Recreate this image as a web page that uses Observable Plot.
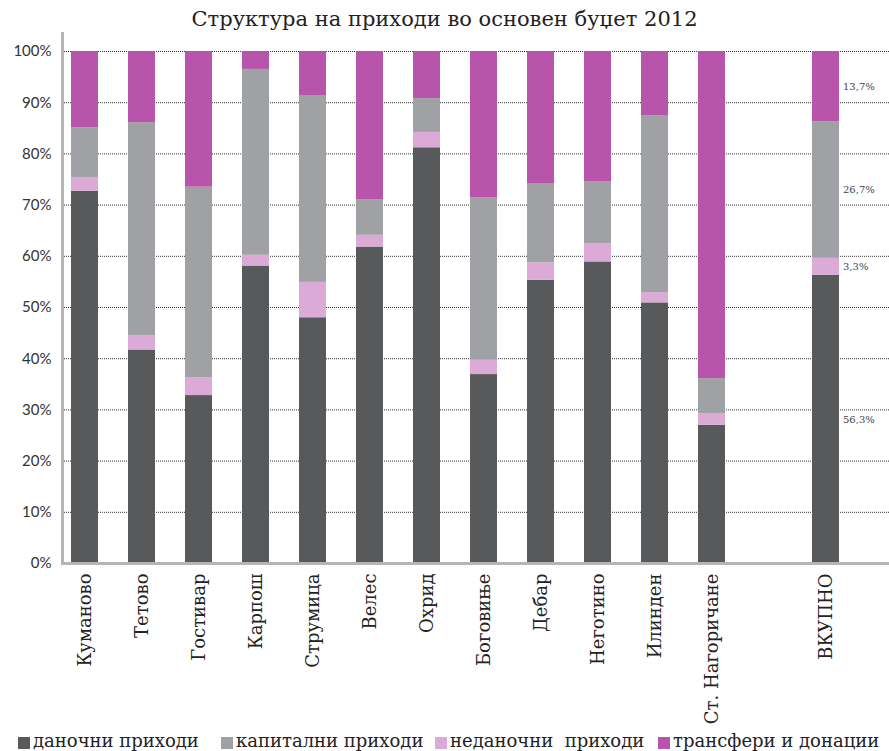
<!DOCTYPE html>
<html>
<head>
<meta charset="utf-8">
<script src="https://cdn.jsdelivr.net/npm/d3@7"></script>
<script src="https://cdn.jsdelivr.net/npm/@observablehq/plot@0.6"></script>
<style>
  html, body { margin: 0; padding: 0; background: #fff; }
  #wrap { position: relative; width: 889px; height: 751px; overflow: hidden; }
  #title { height: 30px; font-family: "DejaVu Serif", serif; font-size: 21px; line-height: 21px;
           padding-top: 9px; box-sizing: border-box; text-align: center; color: #222; white-space: nowrap; }
  #chart svg { display: block; background: transparent; }
  #legend { position: relative; height: 21px; font-family: "DejaVu Serif", serif; font-size: 18px; color: #222; }
  .li { position: absolute; top: 0; white-space: pre; }
  .sw { position: absolute; top: 7px; width: 12px; height: 12px; }
  .lt { position: absolute; top: 1px; line-height: 19px; white-space: pre; }
</style>
</head>
<body>
<div id="wrap">
  <div id="title">Структура на приходи во основен буџет 2012</div>
  <div id="chart"></div>
  <div id="legend"></div>
</div>
<script>
const categories = ["Куманово","Тетово","Гостивар","Карпош","Струмица","Велес","Охрид","Боговиње","Дебар","Неготино","Илинден","Ст. Нагоричане","ВКУПНО"];
const spacer = " ";
const xDomain = [...categories.slice(0, 12), spacer, categories[12]];

const seriesNames = ["даночни приходи", "неданочни  приходи", "капитални приходи", "трансфери и донации"];
const legendOrder = ["даночни приходи", "капитални приходи", "неданочни  приходи", "трансфери и донации"];
const seriesColors = ["#58595b", "#dcaad7", "#a0a1a4", "#b854a9"];

const taxRevenue      = [72.7, 41.7, 32.8, 58.1, 48.0, 61.8, 81.2, 36.9, 55.3, 58.9, 50.9, 27.0, 56.3];
const nonTaxRevenue   = [ 2.7,  2.8,  3.5,  2.1,  6.9,  2.3,  3.0,  2.8,  3.4,  3.5,  2.0,  2.3,  3.3];
const capitalRevenue  = [ 9.7, 41.6, 37.2, 36.3, 36.5,  6.9,  6.6, 31.7, 15.4, 12.1, 34.5,  6.8, 26.7];
const transfers       = [14.9, 13.9, 26.5,  3.5,  8.6, 29.0,  9.2, 28.6, 25.9, 25.5, 12.6, 63.9, 13.7];

const yTicks = [0, 10, 20, 30, 40, 50, 60, 70, 80, 90, 100];

const seriesValues = [taxRevenue, nonTaxRevenue, capitalRevenue, transfers];
const rows = [];
seriesNames.forEach((s, si) => {
  categories.forEach((c, ci) => rows.push({cat: c, series: s, value: seriesValues[si][ci]}));
});
const totalRows = rows.filter(d => d.cat === "ВКУПНО");
const fmt = v => v.toFixed(1).replace(".", ",") + "%";

const chart = Plot.plot({
  width: 889,
  height: 700,
  marginTop: 3,
  marginBottom: 167,
  marginLeft: 62,
  marginRight: 0,
  style: {background: "transparent"},
  x: {type: "band", domain: xDomain, range: [71, 840.3], paddingInner: 0.527, paddingOuter: 0, align: 0, label: null},
  y: {domain: [0, 100], range: [533, 21], label: null},
  color: {domain: seriesNames, range: seriesColors},
  marks: [
    Plot.ruleY(yTicks, {stroke: "#333", strokeDasharray: "1,1", strokeWidth: 1}),
    Plot.barY(rows, {x: "cat", y: "value", fill: "series", order: null}),
    Plot.ruleY([0], {stroke: "#b5b5b5", strokeWidth: 3}),
    Plot.frame({anchor: "left", stroke: "#b5b5b5", strokeWidth: 3}),
    Plot.axisY({ticks: yTicks, tickSize: 0, tickPadding: 11, tickFormat: d => d + "%",
                fontSize: 15, fontFamily: "Lato", fill: "#333"}),
    Plot.axisX({tickSize: 0, tickPadding: 10, tickRotate: -90, tickFormat: d => d,
                fontSize: 18, fontFamily: "DejaVu Serif", fill: "#222"}),
    Plot.text(totalRows, Plot.stackY({x: "cat", y: "value", text: d => fmt(d.value), order: null,
                dx: 17, textAnchor: "start", fontSize: 10, fontFamily: "DejaVu Serif", fill: "#444"}))
  ]
});
document.getElementById("chart").appendChild(chart);

const legendLefts = [18, 221, 435, 658];
const leg = document.getElementById("legend");
legendOrder.forEach((name, i) => {
  const item = document.createElement("div");
  item.className = "li";
  item.style.left = legendLefts[i] + "px";
  const sw = document.createElement("div");
  sw.className = "sw";
  sw.style.left = "0px";
  sw.style.background = seriesColors[seriesNames.indexOf(name)];
  const t = document.createElement("div");
  t.className = "lt";
  t.style.left = "15px";
  t.textContent = name;
  item.appendChild(sw);
  item.appendChild(t);
  leg.appendChild(item);
});
</script>
</body>
</html>
